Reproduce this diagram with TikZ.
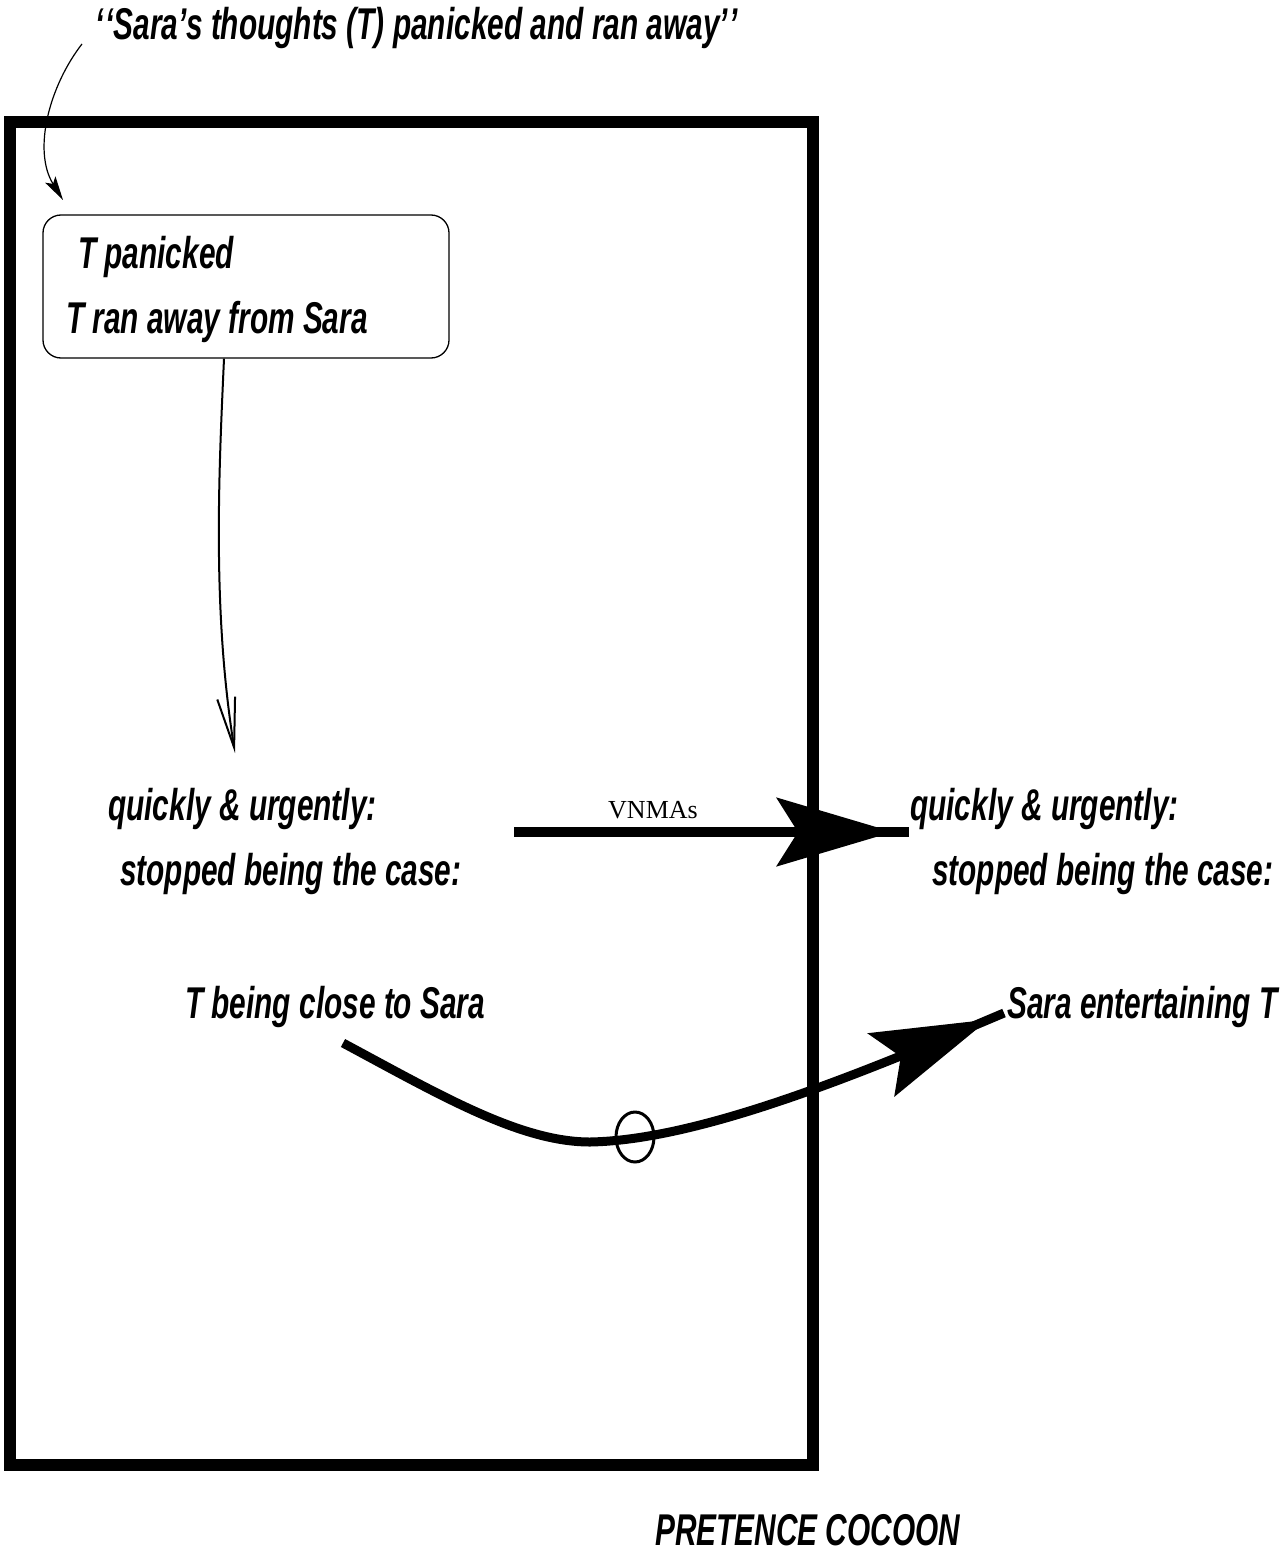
\documentclass[tikz,border=0pt]{standalone}
\usepackage{fontspec}
\usetikzlibrary{arrows.meta,decorations.markings}
\newfontfamily\figfont[FakeStretch=0.67]{Liberation Sans}
\newfontfamily\labelfont{Liberation Serif}

\begin{document}
\begin{tikzpicture}[x=1pt,y=-1pt,
  txt/.style={anchor=base west, inner sep=0pt,
    font=\figfont\bfseries\itshape\fontsize{44.5}{50}\selectfont},
  heavy/.style={line width=#1, postaction={decorate}},
  headmark/.style={decoration={markings,
    mark=at position #1 with {\arrow{Stealth[length=116pt,width=68pt,inset=21pt]}}}}]

  % page frame
  \useasboundingbox (0,0) rectangle (1286,1552);

  % the cocoon frame
  \node[draw, line width=12pt, minimum width=803pt, minimum height=1343pt,
        inner sep=0pt] (cocoon) at (411.5,793.5) {};
  \node[txt] (cocoonlabel) at (655,1545) {PRETENCE COCOON};

  % quoted sentence and the box of thoughts
  \node[txt] (title) at (95,40)
    {‘\kern2pt‘Sara’s thoughts (T) panicked and ran away’\kern2pt’};
  \node[draw, rounded corners=18pt, line width=1.3pt, minimum width=406pt,
        minimum height=143pt, inner sep=0pt] (thoughts) at (246,286.5) {};
  \node[txt] (panic) at (78,268) {T panicked};
  \node[txt] (ranaway) at (66,333) {T ran away from Sara};

  \coordinate (qstart) at (82,44);
  \coordinate (qend) at (63,200);
  \draw[line width=1.2pt, -{Stealth[length=24pt,width=12pt,inset=5pt]}]
    (qstart) .. controls (50,85) and (32,150) .. (qend);

  % inside the cocoon
  \node[txt] (lq) at (108,820) {quickly \& urgently:};
  \node[txt] (ls) at (120,885) {stopped being the case:};
  \node[txt] (lt) at (185,1018) {T being close to Sara};

  % outside the cocoon
  \node[txt] (rq) at (910,820) {quickly \& urgently:};
  \node[txt] (rs) at (932,885) {stopped being the case:};
  \node[txt] (rt) at (1007,1018) {Sara entertaining T};

  % thin arrow from the thoughts down to the inner description
  \coordinate (down) at (235,753);
  \draw[line width=2pt, -{Straight Barb[length=50pt,width=18pt]}]
    ([xshift=-22pt]thoughts.south) .. controls (219,470) and (212,610) .. (down);

  % VNMAs connector
  \coordinate (vs) at (514,832);
  \coordinate (ve) at (909,832);
  \draw[heavy=10pt, headmark=-16pt] (vs) -- (ve);
  \node[anchor=base, inner sep=0pt, font=\labelfont\fontsize{26}{30}\selectfont]
    (vnmas) at (653,818) {VNMAs};

  % curved connector with the small ring on it
  \coordinate (cs) at (343,1043);
  \coordinate (ce) at (1004,1013);
  \draw[heavy=9pt, headmark=-17pt]
    (cs) .. controls (440,1095) and (520,1142) .. (590,1142)
         .. controls (700,1140) and (860,1074) .. (ce);
  \draw[line width=3pt] (635,1137) ellipse [x radius=19, y radius=25];
\end{tikzpicture}
\end{document}
